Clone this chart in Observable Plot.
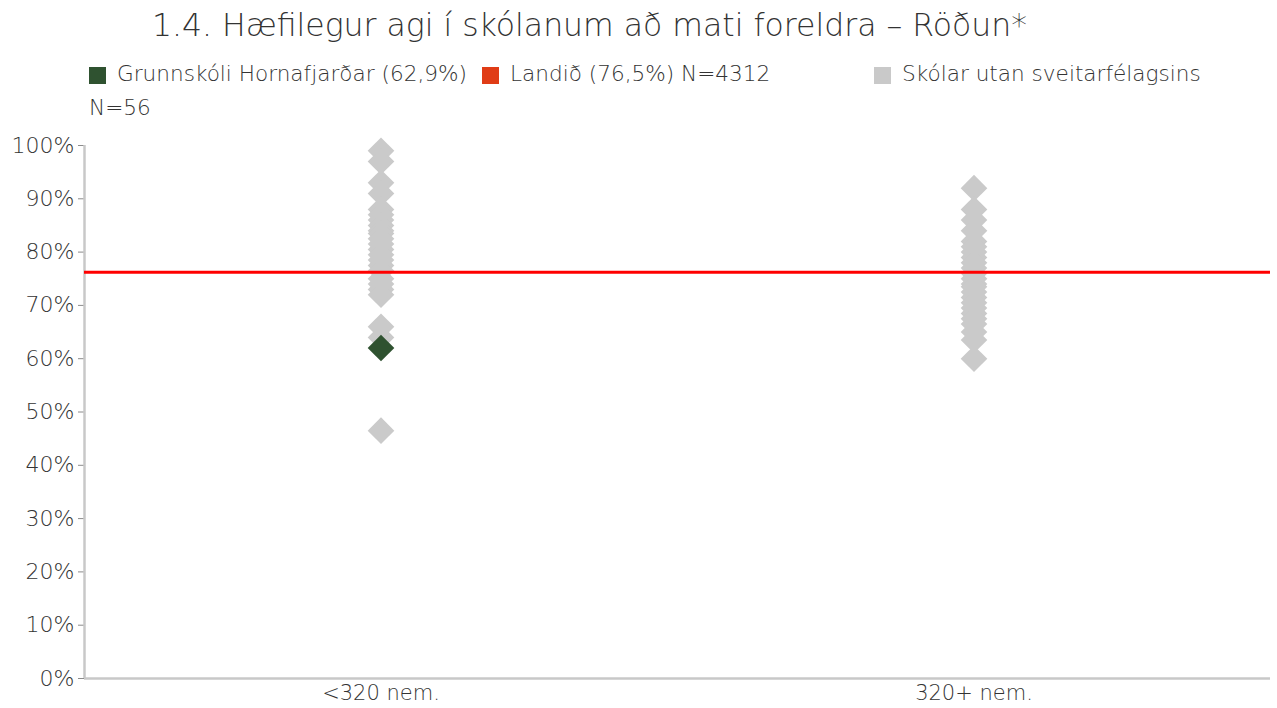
<!DOCTYPE html>
<html>
<head>
<meta charset="utf-8">
<script src="https://cdn.jsdelivr.net/npm/d3@7"></script>
<script src="https://cdn.jsdelivr.net/npm/@observablehq/plot@0.6"></script>
<style>
  html, body { margin: 0; padding: 0; background: #fff; }
  body { width: 1277px; height: 708px; overflow: hidden; font-family: "DejaVu Sans", sans-serif; font-weight: 200; }
  #header { position: relative; height: 125px; color: #333; }
  #title { position: absolute; left: 152px; top: 7px; font-size: 31.5px; font-weight: 200; white-space: nowrap; }
  .leg { position: absolute; font-size: 21.6px; white-space: nowrap; color: #333; }
  .sw { position: absolute; width: 17px; height: 17px; }
  svg text { font-weight: 200; }
</style>
</head>
<body>
<div id="header"></div>
<div id="chart"></div>
<script>
const titleText = "1.4. Hæfilegur agi í skólanum að mati foreldra – Röðun*";
const categories = ["<320 nem.", "320+ nem."];
const yTicks = [0, 10, 20, 30, 40, 50, 60, 70, 80, 90, 100];

// Other schools (outside the municipality), by school size
const smallSchools = [99, 97, 93, 91, 88, 87, 86, 85, 84, 83.5, 82.5, 81.5, 80.5, 79.5, 78.5, 77.5, 76.5, 75, 74, 73, 72, 66, 64, 46.5];
const largeSchools = [92, 88, 86, 84, 82, 81, 80, 79, 78, 77, 76, 75, 74, 73.5, 72.5, 71.5, 70.5, 69.5, 68.5, 67.5, 66.5, 65, 63.5, 60];

// The municipality's school
const homeGroup = "<320 nem.";
const homeValue = 62;
// National average (line as drawn)
const nationalValue = 76.2;

const legendItems = [
  {label: "Grunnskóli Hornafjarðar (62,9%)", color: "#2f5230"},
  {label: "Landið (76,5%) N=4312", color: "#e03c16"},
  {label: "Skólar utan sveitarfélagsins", color: "#c9c9c9"}
];
const legendExtra = "N=56";

const header = document.getElementById("header");
const t = document.createElement("div");
t.id = "title"; t.textContent = titleText; header.appendChild(t);
const legX = [89, 482, 874];
legendItems.forEach((it, i) => {
  const sw = document.createElement("div");
  sw.className = "sw"; sw.style.left = legX[i] + "px"; sw.style.top = "67px"; sw.style.background = it.color;
  header.appendChild(sw);
  const lb = document.createElement("div");
  lb.className = "leg"; lb.style.left = (legX[i] + 28) + "px"; lb.style.top = "61px"; lb.textContent = it.label;
  header.appendChild(lb);
});
const ex = document.createElement("div");
ex.className = "leg"; ex.style.left = "89px"; ex.style.top = "95px"; ex.textContent = legendExtra;
header.appendChild(ex);

const others = [
  ...smallSchools.map(v => ({group: categories[0], value: v})),
  ...largeSchools.map(v => ({group: categories[1], value: v}))
];
const pos = g => categories.indexOf(g) + 0.5;

const chart = Plot.plot({
  width: 1277,
  height: 583,
  marginTop: 20,
  marginBottom: 30,
  marginLeft: 84,
  marginRight: 7,
  style: {fontFamily: "'DejaVu Sans', sans-serif", color: "#333", background: "#fff"},
  x: {domain: [0, categories.length], axis: null},
  y: {domain: [0, 100], axis: null},
  marks: [
    Plot.axisY({ticks: yTicks, tickFormat: d => d + "%", label: null, tickSize: 6, tickPadding: 4, fontSize: 22, stroke: "#8c8c8c", fill: "#333"}),
    Plot.axisX({ticks: categories.map((c, i) => i + 0.5), tickFormat: v => categories[v - 0.5], label: null, tickSize: 0, tickPadding: 7, fontSize: 21, fill: "#333"}),
    Plot.ruleX([0], {stroke: "#c8c8c8", strokeWidth: 2.5}),
    Plot.ruleY([0], {stroke: "#c8c8c8", strokeWidth: 2.5}),
    Plot.dot(others, {x: d => pos(d.group), y: "value", symbol: "diamond2", r: 12, fill: "#cacaca", stroke: "none"}),
    Plot.ruleY([nationalValue], {stroke: "#ff0000", strokeWidth: 3}),
    Plot.dot([{group: homeGroup, value: homeValue}], {x: d => pos(d.group), y: "value", symbol: "diamond2", r: 12, fill: "#2f5230", stroke: "none"})
  ]
});
document.getElementById("chart").appendChild(chart);
</script>
</body>
</html>
